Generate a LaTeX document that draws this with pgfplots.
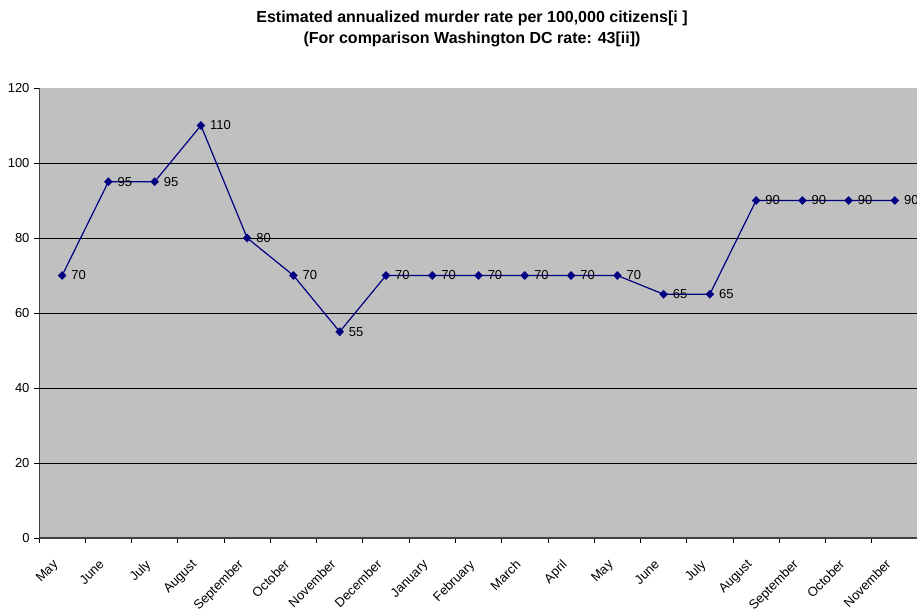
\documentclass[border=0pt]{standalone}
\usepackage{fontspec}
\setmainfont{Liberation Sans}
\usepackage{pgfplots}
\pgfplotsset{compat=1.18}
\definecolor{plotbg}{HTML}{C0C0C0}
\definecolor{navyline}{HTML}{000080}
\definecolor{axgray}{HTML}{404040}
\begin{document}
\begin{tikzpicture}[x=1bp,y=1bp]
\begin{axis}[
  at={(39bp,73bp)}, anchor=south west,
  scale only axis, width=879bp, height=450bp,
  xmin=-0.5, xmax=18.5, ymin=0, ymax=120,
  axis lines=left,
  axis line style={-},
  x axis line style={draw=axgray, line width=1.6bp},
  y axis line style={draw=axgray, line width=1bp},
  axis background/.style={fill=plotbg},
  ytick={0,20,...,120},
  xtick={0,...,18},
  xticklabels={May,June,July,August,September,October,November,December,January,February,March,April,May,June,July,August,September,October,November},
  x tick style={draw=none},
  minor xtick={-0.5,0.5,...,18.5},
  minor x tick style={draw=black, line width=0.8bp},
  minor tick length=5bp,
  y tick style={draw=black, line width=0.8bp},
  major tick length=5bp,
  tick align=outside,
  extra y ticks={20,40,60,80,100},
  extra y tick labels={},
  extra y tick style={grid=major, major tick length=0pt},
  major grid style={black, line width=0.8bp},
  /pgf/number format/assume math mode=true,
  yticklabel style={font=\fontsize{13bp}{15bp}\selectfont, xshift=-1bp},
  xticklabel style={font=\fontsize{13bp}{15bp}\selectfont, xshift=-10bp, yshift=-11bp, rotate=45, anchor=north east},
  clip=false,
]
\addplot[navyline, line width=1.2bp, mark=diamond*, mark size=4bp, mark options={fill=navyline, draw=navyline, xscale=1.3, line width=0.5bp},
  nodes near coords, point meta=explicit symbolic,
  nodes near coords style={anchor=west, font=\fontsize{13bp}{15bp}\selectfont, text=black, xshift=8bp, inner sep=1bp}]
  table[meta index=2] {
x y label
0 70 70
1 95 95
2 95 95
3 110 110
4 80 80
5 70 70
6 55 55
7 70 70
8 70 70
9 70 70
10 70 70
11 70 70
12 70 70
13 65 65
14 65 65
15 90 90
16 90 90
17 90 90
18 90 90
};
\end{axis}
\node[align=center, font=\bfseries\fontsize{16bp}{21bp}\selectfont] at (472,582) {Estimated annualized murder rate per 100,000 citizens[i ]\\(For comparison Washington DC rate: 43[ii])};
\pgfresetboundingbox
\path (0,0) rectangle (917,611);
\end{tikzpicture}
\end{document}
